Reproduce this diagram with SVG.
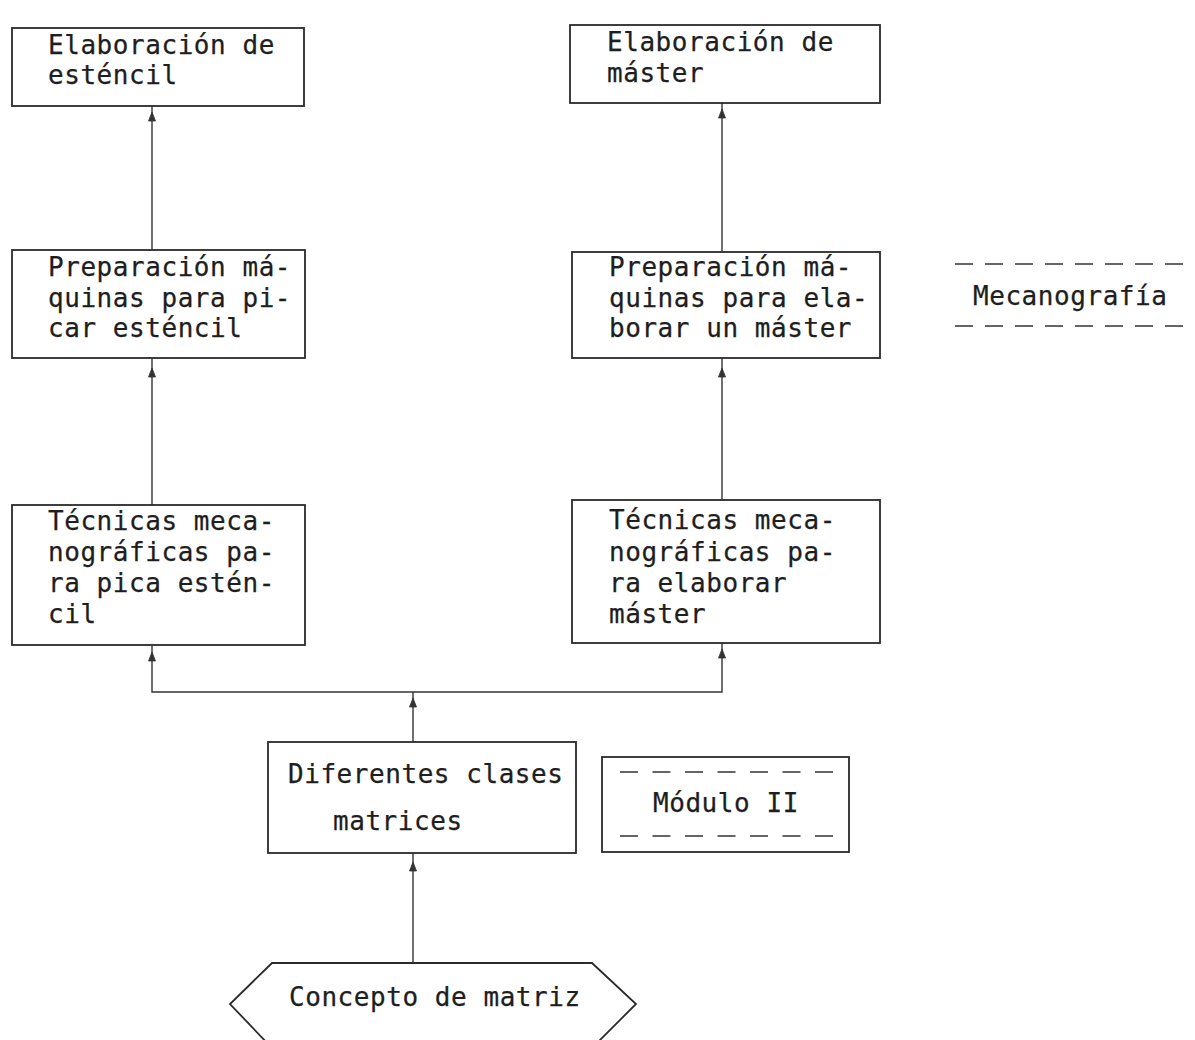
<svg xmlns="http://www.w3.org/2000/svg" width="1195" height="1040" viewBox="0 0 1195 1040">
  <style>
    .box { fill: none; stroke: #2a2a2a; stroke-width: 1.8; }
    .wire { fill: none; stroke: #333; stroke-width: 1.4; }
    .dash { fill: none; stroke: #333; stroke-width: 1.6; stroke-dasharray: 18 12; }
    .dash-in { fill: none; stroke: #333; stroke-width: 1.6; stroke-dasharray: 18 14.5; }
    .t { font-family: "DejaVu Sans Mono", "Liberation Mono", monospace; font-size: 26px; letter-spacing: 0.55px; fill: #1e1e1e; stroke: #1e1e1e; stroke-width: 0.25; }
    .head { fill: #333; stroke: #333; stroke-width: 0.8; }
  </style>
  <defs>
    <path id="up" class="head" d="M0,0 L-3.5,9 L3.5,9 Z"/>
  </defs>
  <rect width="1195" height="1040" fill="#ffffff"/>

  <!-- connectors: each flow points upward into the next step -->
  <g id="connectors">
    <path class="wire" d="M152,250 V106"/>
    <path class="wire" d="M152,505 V358"/>
    <path class="wire" d="M722,252 V103"/>
    <path class="wire" d="M722,500 V358"/>
    <path class="wire" d="M413,742 V692 M152,645 V692 H722 V643"/>
    <path class="wire" d="M413,963 V853"/>
    <use href="#up" x="152" y="112"/>
    <use href="#up" x="152" y="368"/>
    <use href="#up" x="722" y="109"/>
    <use href="#up" x="722" y="368"/>
    <use href="#up" x="152" y="652"/>
    <use href="#up" x="722" y="649"/>
    <use href="#up" x="413" y="698"/>
    <use href="#up" x="413" y="862"/>
  </g>

  <g id="elab-estencil">
    <rect class="box" x="12" y="28" width="292" height="78"/>
    <text class="t" x="48" y="54">Elaboración de</text>
    <text class="t" x="48" y="84">esténcil</text>
  </g>

  <g id="elab-master">
    <rect class="box" x="570" y="25" width="310" height="78"/>
    <text class="t" x="607" y="51">Elaboración de</text>
    <text class="t" x="607" y="82">máster</text>
  </g>

  <g id="prep-estencil">
    <rect class="box" x="12" y="250" width="293" height="108"/>
    <text class="t" x="48" y="276">Preparación má-</text>
    <text class="t" x="48" y="307">quinas para pi-</text>
    <text class="t" x="48" y="337">car esténcil</text>
  </g>

  <g id="prep-master">
    <rect class="box" x="572" y="252" width="308" height="106"/>
    <text class="t" x="609" y="276">Preparación má-</text>
    <text class="t" x="609" y="307">quinas para ela-</text>
    <text class="t" x="609" y="337">borar un máster</text>
  </g>

  <g id="tec-estencil">
    <rect class="box" x="12" y="505" width="293" height="140"/>
    <text class="t" x="48" y="530">Técnicas meca-</text>
    <text class="t" x="48" y="561">nográficas pa-</text>
    <text class="t" x="48" y="592">ra pica estén-</text>
    <text class="t" x="48" y="623">cil</text>
  </g>

  <g id="tec-master">
    <rect class="box" x="572" y="500" width="308" height="143"/>
    <text class="t" x="609" y="529">Técnicas meca-</text>
    <text class="t" x="609" y="561">nográficas pa-</text>
    <text class="t" x="609" y="592">ra elaborar</text>
    <text class="t" x="609" y="623">máster</text>
  </g>

  <g id="clases-matrices">
    <rect class="box" x="268" y="742" width="308" height="111"/>
    <text class="t" x="288" y="783">Diferentes clases</text>
    <text class="t" x="333" y="830">matrices</text>
  </g>

  <g id="modulo">
    <rect class="box" x="602" y="757" width="247" height="95"/>
    <path class="dash-in" d="M620,772 H833 M620,836 H833"/>
    <text class="t" x="653" y="812">Módulo II</text>
  </g>

  <g id="concepto">
    <path class="box" d="M272,963 H592 L636,1004 L594,1046 H270 L230,1004 Z"/>
    <text class="t" x="289" y="1006">Concepto de matriz</text>
  </g>

  <g id="mecanografia">
    <path class="dash" d="M955,264 H1195 M955,326 H1195"/>
    <text class="t" x="973" y="305">Mecanografía</text>
  </g>
</svg>
